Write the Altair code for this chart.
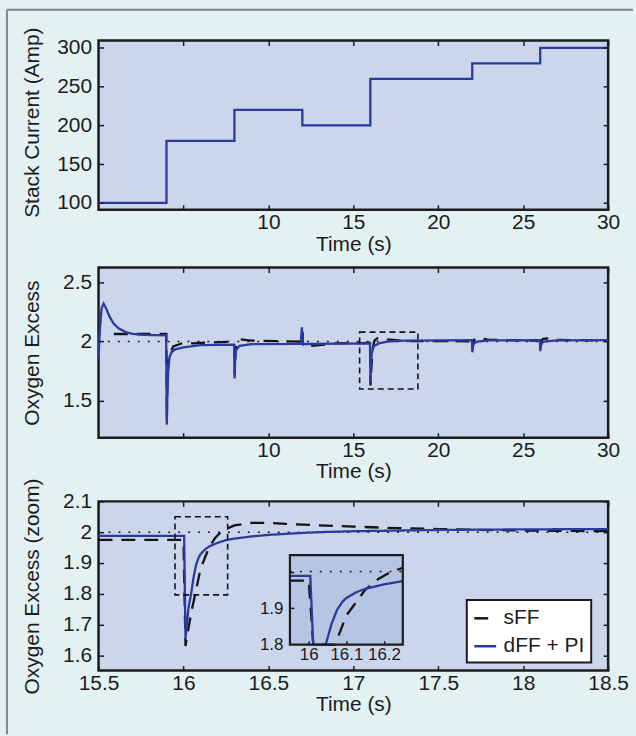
import altair as alt
import pandas as pd

# ------------------------------------------------------------------ data
series_names = ["sFF", "dFF + PI"]

current_t = [0, 4, 8, 12, 16, 22, 26, 30]
current_amp = [100, 180, 220, 200, 260, 280, 300, 300]

full_t_dff = [0.0, 0.08, 0.18, 0.3, 0.45, 0.65, 0.9, 1.2, 1.6, 2.0, 2.6, 3.2, 3.98,
              4.02, 4.05, 4.1, 4.18, 4.3, 4.5, 5.0, 6.0, 7.98, 8.01, 8.04, 8.1, 8.3,
              9.0, 11.9, 11.97, 12.0, 12.04, 12.2, 14.0, 15.98, 16.01, 16.03, 16.08,
              16.2, 16.5, 17.0, 18.0, 21.98, 22.01, 22.04, 22.1, 22.3, 23.0, 25.98,
              26.01, 26.04, 26.1, 26.3, 27.0, 30.0]
full_v_dff = [1.86, 2.1, 2.28, 2.32, 2.28, 2.21, 2.15, 2.11, 2.08, 2.065, 2.057, 2.054,
              2.052, 1.30, 1.55, 1.75, 1.87, 1.91, 1.935, 1.952, 1.97, 1.975, 1.69,
              1.85, 1.93, 1.965, 1.978, 1.98, 2.12, 2.05, 1.975, 1.98, 1.983, 1.985,
              1.66, 1.8, 1.9, 1.96, 1.985, 2.0, 2.008, 2.012, 1.91, 1.96, 1.985, 2.0,
              2.01, 2.013, 1.92, 1.965, 1.99, 2.003, 2.01, 2.013]

full_t_sff = [0.9, 3.99, 4.02, 4.06, 4.15, 4.4, 5.0, 5.6, 6.5, 7.99, 8.02, 8.06, 8.15,
              8.3, 9.0, 11.99, 12.01, 12.04, 12.3, 13.0, 14.0, 15.99, 16.01, 16.07,
              16.15, 16.25, 16.45, 17.0, 18.0, 21.99, 22.01, 22.06, 22.15, 22.4, 23.0,
              25.99, 26.01, 26.06, 26.15, 26.4, 27.0, 30.0]
full_v_sff = [2.064, 2.064, 1.35, 1.7, 1.88, 1.96, 1.99, 1.985, 1.993, 2.0, 1.72, 1.9,
              2.0, 2.02, 2.008, 2.0, 2.08, 1.98, 1.962, 1.97, 1.985, 1.99, 1.63, 1.8,
              1.95, 2.01, 2.03, 2.018, 2.005, 2.003, 1.93, 1.99, 2.025, 2.03, 2.015,
              2.008, 1.93, 1.99, 2.022, 2.027, 2.015, 2.008]

zoom_t_dff = [15.5, 15.95, 16.0, 16.004, 16.012, 16.02, 16.03, 16.045, 16.06, 16.075,
              16.09, 16.1, 16.125, 16.15, 16.2, 16.25, 16.3, 16.4, 16.5, 16.65, 16.8,
              17.0, 17.5, 18.0, 18.5]
zoom_v_dff = [1.988, 1.988, 1.988, 1.988, 1.655, 1.70, 1.755, 1.80, 1.855, 1.895,
              1.918, 1.928, 1.943, 1.953, 1.965, 1.974, 1.979, 1.986, 1.991, 1.996,
              2.0, 2.003, 2.007, 2.009, 2.01]

zoom_t_sff = [15.5, 15.95, 16.0, 16.012, 16.03, 16.05, 16.07, 16.1, 16.125, 16.15,
              16.185, 16.22, 16.25, 16.3, 16.4, 16.5, 16.6, 16.8, 17.0, 17.25, 17.5,
              18.0, 18.5]
zoom_v_sff = [1.975, 1.975, 1.975, 1.63, 1.69, 1.75, 1.80, 1.88, 1.915, 1.95, 1.98,
              2.0, 2.01, 2.022, 2.03, 2.03, 2.027, 2.022, 2.018, 2.013, 2.01, 2.005,
              2.003]

ref_level = 2.0
full_ref_t = [0.55, 30.0]
zoom_ref_t = [15.5, 18.5]
inset_ref_t = [15.95, 16.25]

box_full_t = [15.37, 18.8]
box_full_v = [1.60, 2.08]
box_zoom_t = [15.95, 16.26]
box_zoom_v = [1.796, 2.05]

inset_t = [15.95, 16.25]
inset_v = [1.8, 2.045]

p1_x_ticks = [5, 10, 15, 20, 25, 30]
p1_x_labels = [10, 15, 20, 25, 30]
p1_y_ticks = [100, 150, 200, 250, 300]
p2_y_ticks = [1.5, 2.0, 2.5]
p3_x_ticks = [15.5, 16.0, 16.5, 17.0, 17.5, 18.0, 18.5]
p3_y_ticks = [1.6, 1.7, 1.8, 1.9, 2.0, 2.1]
in_x_labels = [16.0, 16.1, 16.2]
in_y_labels = [1.8, 1.9]
in_y_ticks = [1.9, 2.0]

# ------------------------------------------------------------------ style
W = 512
H1, H2, H3 = 170, 171, 170
BLUE = "#2c3a9e"
BLACK = "#141414"
AX = "#1c1c1c"
PLOT_BG = "#cbd6ed"
INSET_BG = "#b7c5e5"
PAGE_BG = "#e3f1f2"
FS = 21
IN_FS = 17
DASH = [14, 9]
DOT = [2, 8]

# inset placement inside panel 3 (pixels relative to the panel)
IN_LEFT, IN_RIGHT, IN_TOP, IN_BOTTOM = 192.3, 305.7, 54, 144


def lin(domain, rng=None, clamp=False):
    kw = dict(domain=domain, nice=False, zero=False)
    if rng is not None:
        kw["range"] = rng
    if clamp:
        kw["clamp"] = True
    return alt.Scale(**kw)


def x_label_axis(values, title, title_y, fs=FS, offset=0):
    kw = dict(orient="bottom", values=values, format=".1~f", labelFlush=False,
              labelOverlap=False, ticks=False, tickSize=0, domain=False, grid=False,
              labelPadding=2, labelFontSize=fs)
    if offset:
        kw["offset"] = offset
    if title:
        kw.update(title=title, titleX=W / 2, titleY=title_y, titleBaseline="middle",
                  titleAlign="center")
    else:
        kw["title"] = None
    return alt.Axis(**kw)


def y_label_axis(values, title, title_y, fs=FS, offset=0):
    kw = dict(orient="left", values=values, format=".1~f", labelFlush=False,
              labelOverlap=False, ticks=False, tickSize=0, domain=False, grid=False,
              labelPadding=7, labelFontSize=fs)
    if offset:
        kw["offset"] = offset
    if title:
        kw.update(title=title, titleX=-66, titleY=title_y, titleBaseline="middle",
                  titleAlign="center", titleAngle=270)
    else:
        kw["title"] = None
    return alt.Axis(**kw)


def tick_axis(orient, offset, values, size=5):
    return alt.Axis(orient=orient, offset=offset, values=values, labels=False,
                    domain=False, grid=False, title=None, ticks=True, tickSize=size,
                    tickWidth=1.5, tickColor=AX, zindex=1)


def tick_layers(xs, ys, xdom, ydom, xt, yt, H):
    df = pd.DataFrame({"x": xdom, "y": ydom})
    a = alt.Chart(df).mark_point(opacity=0, size=1).encode(
        x=alt.X("x:Q", scale=xs, axis=tick_axis("top", -H, xt)),
        y=alt.Y("y:Q", scale=ys, axis=tick_axis("right", -W, yt)),
    )
    b = alt.Chart(df).mark_point(opacity=0, size=1).encode(
        x=alt.X("x:Q", scale=xs, axis=tick_axis("bottom", -H, xt)),
        y=alt.Y("y:Q", scale=ys, axis=tick_axis("left", -W, yt)),
    )
    return [a, b]


one = pd.DataFrame({"k": [0]})

# ------------------------------------------------------------------ panel 1
xs1 = lin([0, 30])
ys1 = lin([91, 309.4])
df1 = pd.DataFrame({"t": current_t, "amp": current_amp})

frame_v = alt.Chart(one).mark_rule(color="#858585", strokeWidth=2).encode(
    x=alt.value(-92), y=alt.value(-31), y2=alt.value(697))
frame_h = alt.Chart(one).mark_rule(color="#858585", strokeWidth=2).encode(
    x=alt.value(-92), x2=alt.value(537), y=alt.value(-31))

line1 = alt.Chart(df1).mark_line(interpolate="step-after", color=BLUE,
                                 strokeWidth=2.3).encode(
    x=alt.X("t:Q", scale=xs1, axis=x_label_axis(p1_x_labels, "Time (s)", 35)),
    y=alt.Y("amp:Q", scale=ys1, axis=y_label_axis(p1_y_ticks, "Stack Current (Amp)", 82)),
)
p1 = alt.layer(frame_v, frame_h, line1,
               *tick_layers(xs1, ys1, [0, 30], [91, 309.4], p1_x_ticks, p1_y_ticks, H1)
               ).resolve_scale(x="independent", y="independent").properties(width=W, height=H1)

# ------------------------------------------------------------------ panel 2
xs2 = lin([0, 30])
ys2 = lin([1.19, 2.625])
df2_d = pd.DataFrame({"t": full_t_dff, "v": full_v_dff})
df2_s = pd.DataFrame({"t": full_t_sff, "v": full_v_sff})
df2_ref = pd.DataFrame({"t": full_ref_t, "v": [ref_level, ref_level]})
df2_box = pd.DataFrame({"x0": [box_full_t[0]], "x1": [box_full_t[1]],
                        "y0": [box_full_v[0]], "y1": [box_full_v[1]]})

ref2 = alt.Chart(df2_ref).mark_line(color=AX, strokeWidth=1.5, strokeDash=DOT).encode(
    x=alt.X("t:Q", scale=xs2, axis=x_label_axis(p1_x_labels, "Time (s)", 34)),
    y=alt.Y("v:Q", scale=ys2, axis=y_label_axis(p2_y_ticks, "Oxygen Excess", H2 / 2)),
)
sff2 = alt.Chart(df2_s).mark_line(color=BLACK, strokeWidth=2.3, strokeDash=DASH).encode(
    x=alt.X("t:Q", scale=xs2, axis=None), y=alt.Y("v:Q", scale=ys2, axis=None))
dff2 = alt.Chart(df2_d).mark_line(color=BLUE, strokeWidth=2.3).encode(
    x=alt.X("t:Q", scale=xs2, axis=None), y=alt.Y("v:Q", scale=ys2, axis=None))
box2 = alt.Chart(df2_box).mark_rect(fillOpacity=0, stroke=BLACK, strokeWidth=1.6,
                                    strokeDash=[6, 4]).encode(
    x=alt.X("x0:Q", scale=xs2, axis=None), x2="x1:Q",
    y=alt.Y("y0:Q", scale=ys2, axis=None), y2="y1:Q")
p2 = alt.layer(ref2, sff2, dff2, box2,
               *tick_layers(xs2, ys2, [0, 30], [1.19, 2.625], p1_x_ticks, p2_y_ticks, H2)
               ).resolve_scale(x="independent", y="independent").properties(width=W, height=H2)

# ------------------------------------------------------------------ panel 3
xs3 = lin([15.5, 18.5])
ys3 = lin([1.55, 2.1])
df3_d = pd.DataFrame({"t": zoom_t_dff, "v": zoom_v_dff, "series": series_names[1]})
df3_s = pd.DataFrame({"t": zoom_t_sff, "v": zoom_v_sff, "series": series_names[0]})
df3_ref = pd.DataFrame({"t": zoom_ref_t, "v": [ref_level, ref_level]})
df3_box = pd.DataFrame({"x0": [box_zoom_t[0]], "x1": [box_zoom_t[1]],
                        "y0": [box_zoom_v[0]], "y1": [box_zoom_v[1]]})

# legend is lifted to the figure root, whose origin is panel 1's top-left corner
leg = alt.Legend(title=None, orient="none", legendX=370, legendY=562, fillColor="white",
                 strokeColor=AX, padding=6, rowPadding=5, labelFontSize=FS,
                 labelColor=AX, labelOffset=6, symbolType="stroke", symbolSize=484,
                 symbolStrokeWidth=2.5)
color_enc = alt.Color("series:N", scale=alt.Scale(domain=series_names, range=[BLACK, BLUE]),
                      legend=leg)
dash_enc = alt.StrokeDash("series:N",
                          scale=alt.Scale(domain=series_names, range=[DASH, [1, 0]]),
                          legend=leg)

ref3 = alt.Chart(df3_ref).mark_line(color=AX, strokeWidth=1.5, strokeDash=DOT).encode(
    x=alt.X("t:Q", scale=xs3, axis=x_label_axis(p3_x_ticks, "Time (s)", 34)),
    y=alt.Y("v:Q", scale=ys3, axis=y_label_axis(p3_y_ticks, "Oxygen Excess (zoom)", H3 / 2)),
)
sff3 = alt.Chart(df3_s).mark_line(strokeWidth=2.3).encode(
    x=alt.X("t:Q", scale=xs3, axis=None), y=alt.Y("v:Q", scale=ys3, axis=None),
    color=color_enc, strokeDash=dash_enc)
dff3 = alt.Chart(df3_d).mark_line(strokeWidth=2.3).encode(
    x=alt.X("t:Q", scale=xs3, axis=None), y=alt.Y("v:Q", scale=ys3, axis=None),
    color=color_enc, strokeDash=dash_enc)
box3 = alt.Chart(df3_box).mark_rect(fillOpacity=0, stroke=BLACK, strokeWidth=1.6,
                                    strokeDash=[6, 4]).encode(
    x=alt.X("x0:Q", scale=xs3, axis=None), x2="x1:Q",
    y=alt.Y("y0:Q", scale=ys3, axis=None), y2="y1:Q")

# inset
xsi = lin(inset_t, rng=[IN_LEFT, IN_RIGHT], clamp=True)
ysi = lin(inset_v, rng=[IN_BOTTOM, IN_TOP], clamp=True)
df_in_box = pd.DataFrame({"x0": [inset_t[0]], "x1": [inset_t[1]],
                          "y0": [inset_v[0]], "y1": [inset_v[1]]})
df_in_ref = pd.DataFrame({"t": inset_ref_t, "v": [ref_level, ref_level]})
in_filter = alt.FieldRangePredicate(field="t", range=inset_t)

in_bg = alt.Chart(df_in_box).mark_rect(fill=INSET_BG).encode(
    x=alt.X("x0:Q", scale=xsi,
            axis=x_label_axis(in_x_labels, None, 0, fs=IN_FS, offset=-(H3 - IN_BOTTOM))),
    x2="x1:Q",
    y=alt.Y("y0:Q", scale=ysi,
            axis=y_label_axis(in_y_labels, None, 0, fs=IN_FS, offset=-IN_LEFT)),
    y2="y1:Q")
in_ref = alt.Chart(df_in_ref).mark_line(color=AX, strokeWidth=1.5, strokeDash=DOT).encode(
    x=alt.X("t:Q", scale=xsi, axis=None), y=alt.Y("v:Q", scale=ysi, axis=None))
in_sff = alt.Chart(df3_s).transform_filter(in_filter).mark_line(
    color=BLACK, strokeWidth=2.3, strokeDash=DASH).encode(
    x=alt.X("t:Q", scale=xsi, axis=None), y=alt.Y("v:Q", scale=ysi, axis=None))
in_dff = alt.Chart(df3_d).transform_filter(in_filter).mark_line(
    color=BLUE, strokeWidth=2.3).encode(
    x=alt.X("t:Q", scale=xsi, axis=None), y=alt.Y("v:Q", scale=ysi, axis=None))
in_border = alt.Chart(df_in_box).mark_rect(fillOpacity=0, stroke=AX, strokeWidth=2.2).encode(
    x=alt.X("x0:Q", scale=xsi, axis=None), x2="x1:Q",
    y=alt.Y("y0:Q", scale=ysi, axis=None), y2="y1:Q")
in_ticks = alt.Chart(df_in_box).mark_point(opacity=0, size=1).encode(
    x=alt.X("x0:Q", scale=xsi, axis=tick_axis("top", -IN_BOTTOM, in_x_labels, 4)),
    y=alt.Y("y0:Q", scale=ysi, axis=tick_axis("right", IN_LEFT - W, in_y_ticks, 4)))

p3 = alt.layer(ref3, sff3, dff3, box3,
               *tick_layers(xs3, ys3, [15.5, 18.5], [1.55, 2.1], p3_x_ticks, p3_y_ticks, H3),
               in_bg, in_ref, in_sff, in_dff, in_border, in_ticks
               ).resolve_scale(x="independent", y="independent").properties(width=W, height=H3)


def spacer(h):
    return alt.Chart(one).mark_point(opacity=0).encode(
        x=alt.value(0), y=alt.value(0)).properties(
        width=W, height=h,
        view=alt.ViewBackground(fill="transparent", stroke="transparent", strokeWidth=0))


chart = alt.vconcat(
    p1, spacer(2), p2, spacer(8), p3,
    spacing=28, bounds="flush",
    padding={"left": 4, "top": 5, "right": 0, "bottom": 0},
).configure(
    background=PAGE_BG, font="Liberation Sans"
).configure_view(
    fill=PLOT_BG, stroke=AX, strokeWidth=2.5
).configure_axis(
    labelFont="Liberation Sans", titleFont="Liberation Sans", labelColor=AX,
    titleColor=AX, titleFontSize=FS, titleFontWeight="normal"
).configure_legend(
    labelFont="Liberation Sans", strokeWidth=2
)

chart.save("out.html", embed_options={"renderer": "svg", "actions": False})
